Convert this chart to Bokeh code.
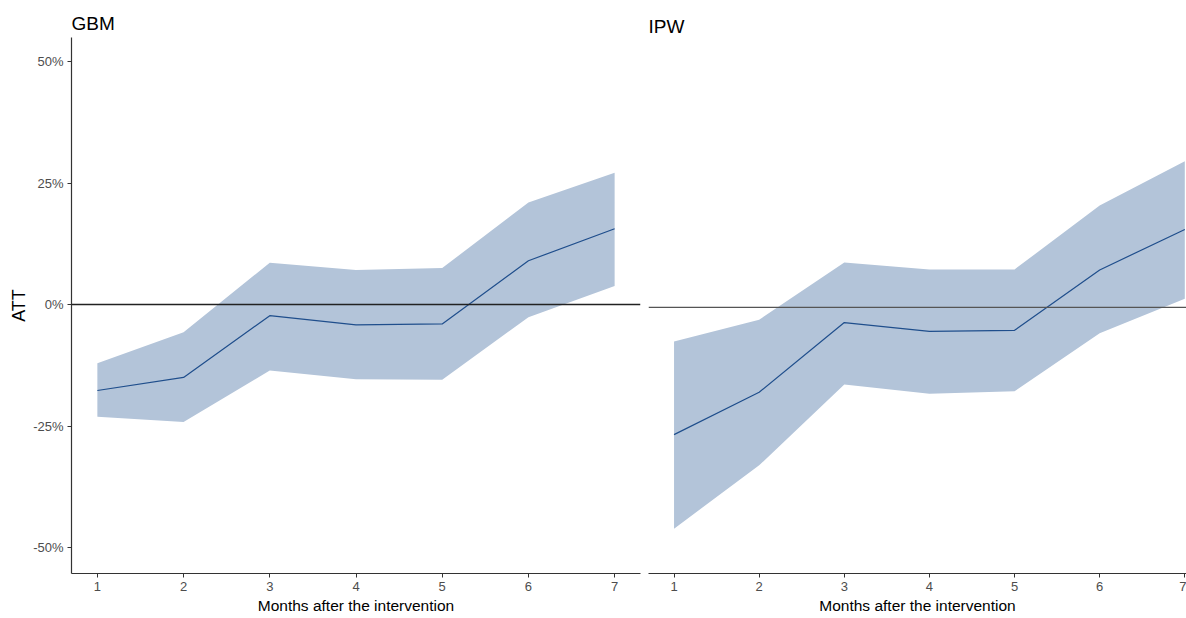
from bokeh.plotting import figure
from bokeh.layouts import row
from bokeh.models import Span, FixedTicker, PrintfTickFormatter, Range1d
from bokeh.embed import file_html
from bokeh.resources import INLINE

months = [1, 2, 3, 4, 5, 6, 7]

# GBM panel (ATT in %)
gbm_est = [-17.7, -15.0, -2.3, -4.2, -4.0, 9.0, 15.6]
gbm_low = [-23.1, -24.2, -13.6, -15.4, -15.5, -2.6, 3.8]
gbm_high = [-12.1, -5.7, 8.6, 7.1, 7.5, 21.0, 27.1]

# IPW panel (ATT in %)
ipw_est = [-26.1, -17.4, -3.1, -4.9, -4.7, 7.7, 16.0]
ipw_low = [-45.4, -32.4, -15.8, -17.7, -17.2, -5.3, 1.8]
ipw_high = [-7.0, -2.5, 9.2, 7.8, 7.8, 20.9, 30.0]

y_ticks = [-50, -25, 0, 25, 50]

FONT = "Liberation Sans"
FILL = "#B3C4D9"
LINE = "#1F4E8C"


def style(p, title, standoff):
    p.title.text = title
    p.title.text_font = FONT
    p.title.text_font_size = "19px"
    p.title.text_font_style = "normal"
    p.title.text_color = "#000000"
    p.title.align = "left"
    p.title.standoff = standoff
    p.xgrid.visible = False
    p.ygrid.visible = False
    p.outline_line_color = None
    p.xaxis.ticker = FixedTicker(ticks=months)
    p.xaxis.axis_label = "Months after the intervention"
    p.xaxis.axis_label_text_font = FONT
    p.xaxis.axis_label_text_font_size = "15.5px"
    p.xaxis.axis_label_text_font_style = "normal"
    p.xaxis.axis_label_text_color = "#000000"
    p.xaxis.axis_label_standoff = 3
    p.xaxis.major_label_text_font = FONT
    p.xaxis.major_label_text_font_size = "13px"
    p.xaxis.major_label_text_color = "#4D4D4D"
    p.xaxis.major_label_standoff = 4
    p.xaxis.axis_line_color = "#333333"
    p.xaxis.axis_line_width = 1.2
    p.xaxis.major_tick_line_color = "#333333"
    p.xaxis.major_tick_out = 4
    p.xaxis.major_tick_in = 0
    p.xaxis.minor_tick_line_color = None


# Left panel: GBM
left = figure(width=644, height=618, output_backend="svg", toolbar_location=None,
              x_range=Range1d(0.7, 7.3), y_range=Range1d(-55.35, 54.94),
              min_border_left=71, min_border_right=4, min_border_top=37, min_border_bottom=45)
style(left, "GBM", 8)
left.varea(x=months, y1=gbm_low, y2=gbm_high, fill_color=FILL, fill_alpha=1.0)
left.line(x=months, y=gbm_est, line_color=LINE, line_width=1.2)
left.add_layout(Span(location=0, dimension="width", line_color="#222222", line_width=1.3))
left.yaxis.ticker = FixedTicker(ticks=y_ticks)
left.yaxis.formatter = PrintfTickFormatter(format="%d%%")
left.yaxis.axis_label = "ATT"
left.yaxis.axis_label_text_font = FONT
left.yaxis.axis_label_text_font_size = "18px"
left.yaxis.axis_label_text_font_style = "normal"
left.yaxis.axis_label_text_color = "#000000"
left.yaxis.axis_label_standoff = 1
left.yaxis.major_label_text_font = FONT
left.yaxis.major_label_text_font_size = "13px"
left.yaxis.major_label_text_color = "#4D4D4D"
left.yaxis.major_label_standoff = 4
left.yaxis.axis_line_color = "#333333"
left.yaxis.axis_line_width = 1.2
left.yaxis.major_tick_line_color = "#333333"
left.yaxis.major_tick_out = 4
left.yaxis.major_tick_in = 0
left.yaxis.minor_tick_line_color = None

# Right panel: IPW
right = figure(width=542, height=618, output_backend="svg", toolbar_location=None,
               x_range=Range1d(0.7, 7.02), y_range=Range1d(-54.6, 55.4),
               min_border_left=4, min_border_right=0, min_border_top=37, min_border_bottom=45)
style(right, "IPW", 2)
right.varea(x=months, y1=ipw_low, y2=ipw_high, fill_color=FILL, fill_alpha=1.0)
right.line(x=months, y=ipw_est, line_color=LINE, line_width=1.2)
right.add_layout(Span(location=0, dimension="width", line_color="#555555", line_width=1.3))
right.yaxis.visible = False

layout = row(left, right)
open("out.html", "w").write(file_html(layout, INLINE))
